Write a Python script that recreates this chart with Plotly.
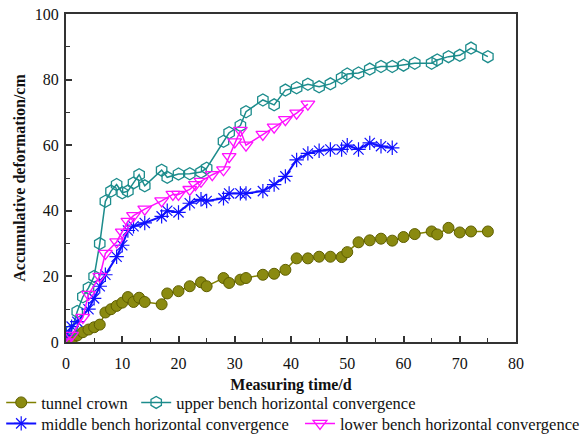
import plotly.graph_objects as go

# Measuring time (d) and accumulative deformation (cm) for each monitoring line
crown_t = [0, 1, 2, 3, 4, 5, 6, 7, 8, 9, 10, 11, 12, 13, 14, 17, 18, 20, 22, 24, 25, 28, 29,
           31, 32, 35, 37, 39, 41, 43, 45, 47, 49, 50, 52, 54, 56, 58, 60, 62, 65, 66, 68, 70, 72, 75]
crown_v = [0, 0.5, 2.0, 3.0, 3.8, 4.5, 5.3, 9.0, 10.0, 11.0, 12.0, 13.7, 12.2, 13.5, 12.2, 11.5,
           14.8, 15.5, 17.0, 18.2, 17.0, 19.5, 18.0, 19.0, 19.5, 20.5, 20.8, 22.0, 25.5, 25.5,
           26.0, 26.0, 25.9, 27.4, 30.4, 31.0, 31.5, 30.9, 32.0, 32.9, 33.7, 32.8, 34.8, 33.4, 33.7, 33.7]

upper_t = [0, 1, 2, 3, 4, 5, 6, 7, 8, 9, 10, 11, 12, 13, 14, 17, 18, 20, 22, 24, 25, 28, 29,
           31, 32, 35, 37, 39, 41, 43, 45, 47, 49, 50, 52, 54, 56, 58, 60, 62, 65, 66, 68, 70, 72, 75]
upper_v = [0, 3.5, 9.3, 13.8, 16.5, 20.0, 30.0, 42.9, 46.0, 48.0, 45.5, 46.0, 48.5, 51.0, 47.6,
           52.4, 50.2, 51.2, 51.3, 51.8, 53.0, 61.2, 63.8, 66.0, 70.2, 73.8, 72.3, 76.8, 77.5,
           78.6, 77.8, 78.7, 80.5, 81.7, 82.0, 83.2, 84.0, 84.0, 84.4, 85.0, 85.0, 86.0, 87.0,
           87.4, 89.6, 87.0]

middle_t = [0, 1, 2, 4, 5, 6, 7, 9, 10, 11, 12, 14, 17, 18, 20, 22, 24, 25, 28, 29, 31, 32,
            35, 37, 39, 41, 43, 45, 47, 49, 50, 52, 54, 56, 58]
middle_v = [2.0, 4.7, 6.2, 10.0, 13.3, 17.0, 20.5, 26.0, 29.5, 34.0, 35.3, 36.3, 38.3, 40.0,
            39.5, 42.3, 43.5, 43.0, 43.8, 45.3, 45.3, 45.3, 46.0, 48.0, 50.5, 55.5, 57.5, 58.3,
            58.7, 58.7, 60.0, 58.7, 60.7, 59.7, 59.2]

lower_t = [0, 1, 3, 4, 6, 7, 9, 10, 11, 12, 14, 17, 19, 20, 22, 23, 24, 26, 28, 29, 30, 31,
           32, 35, 37, 39, 41, 43]
lower_v = [0, 2.0, 7.5, 14.5, 20.0, 27.0, 30.5, 33.5, 36.8, 38.5, 40.5, 43.0, 45.0, 45.0,
           46.5, 48.0, 49.0, 51.0, 52.5, 56.5, 61.0, 64.5, 60.0, 63.3, 65.5, 67.8, 69.8, 72.5]

x_ticks = [0, 10, 20, 30, 40, 50, 60, 70, 80]
y_ticks = [0, 20, 40, 60, 80, 100]

FONT = "Liberation Serif"

fig = go.Figure()

fig.add_trace(go.Scatter(
    x=crown_t, y=crown_v, mode="lines+markers", name="tunnel crown",
    line=dict(color="#808000", width=1.5),
    marker=dict(symbol="circle", size=11, color="#8a8a10",
                line=dict(color="#5f5f00", width=1)),
    legend="legend",
))
fig.add_trace(go.Scatter(
    x=upper_t, y=upper_v, mode="lines+markers", name="upper bench horizontal convergence",
    line=dict(color="#1c8c8c", width=1.5),
    marker=dict(symbol="hexagon-open", size=12, color="#1c8c8c", line=dict(width=1.3)),
    legend="legend2",
))
fig.add_trace(go.Scatter(
    x=middle_t, y=middle_v, mode="lines+markers", name="middle bench horizontal convergence",
    line=dict(color="#1010ff", width=2),
    marker=dict(symbol="asterisk-open", size=12, color="#1010ff", line=dict(width=1.2)),
    legend="legend3",
))
fig.add_trace(go.Scatter(
    x=lower_t, y=lower_v, mode="lines+markers", name="lower bench horizontal convergence",
    line=dict(color="#ff10ff", width=1.5),
    marker=dict(symbol="triangle-down-open", size=12, color="#ff10ff", line=dict(width=1.3)),
    legend="legend4",
))

axis_common = dict(
    showline=True, linecolor="#333333", linewidth=2, mirror=True,
    ticks="inside", ticklen=6, tickwidth=1.5, tickcolor="#333333",
    showgrid=False, zeroline=False,
    tickfont=dict(family=FONT, size=16, color="#111111"),
)

fig.update_xaxes(
    range=[0, 80], tickvals=x_ticks, ticktext=[str(v) for v in x_ticks],
    ticklabelstandoff=6,
    minor=dict(ticks="inside", ticklen=4, tickwidth=1, tickcolor="#333333", dtick=5,
               showgrid=False),
    title=dict(text="<b>Measuring time/d</b>", font=dict(family=FONT, size=16, color="#111111"),
               standoff=8),
    **axis_common,
)
fig.update_yaxes(
    range=[0, 100], tickvals=y_ticks, ticktext=[str(v) for v in y_ticks],
    ticklabelstandoff=2,
    minor=dict(ticks="inside", ticklen=4, tickwidth=1, tickcolor="#333333", dtick=10,
               showgrid=False),
    title=dict(text="<b>Accumulative deformation/cm</b>",
               font=dict(family=FONT, size=16, color="#111111"), standoff=5),
    **axis_common,
)

legend_common = dict(
    orientation="h", xanchor="left", yanchor="middle",
    font=dict(family=FONT, size=16.5, color="#111111"),
    bgcolor="rgba(0,0,0,0)", tracegroupgap=0,
)

ROW1, ROW2 = -0.185, -0.249

fig.update_layout(
    width=587, height=435,
    margin=dict(l=66, r=71, t=14, b=93, autoexpand=False),
    paper_bgcolor="white", plot_bgcolor="white",
    showlegend=True,
    legend=dict(x=-0.144, y=ROW1, **legend_common),
    legend2=dict(x=0.156, y=ROW1, **legend_common),
    legend3=dict(x=-0.144, y=ROW2, **legend_common),
    legend4=dict(x=0.52, y=ROW2, **legend_common),
)

fig.write_html("out.html")
